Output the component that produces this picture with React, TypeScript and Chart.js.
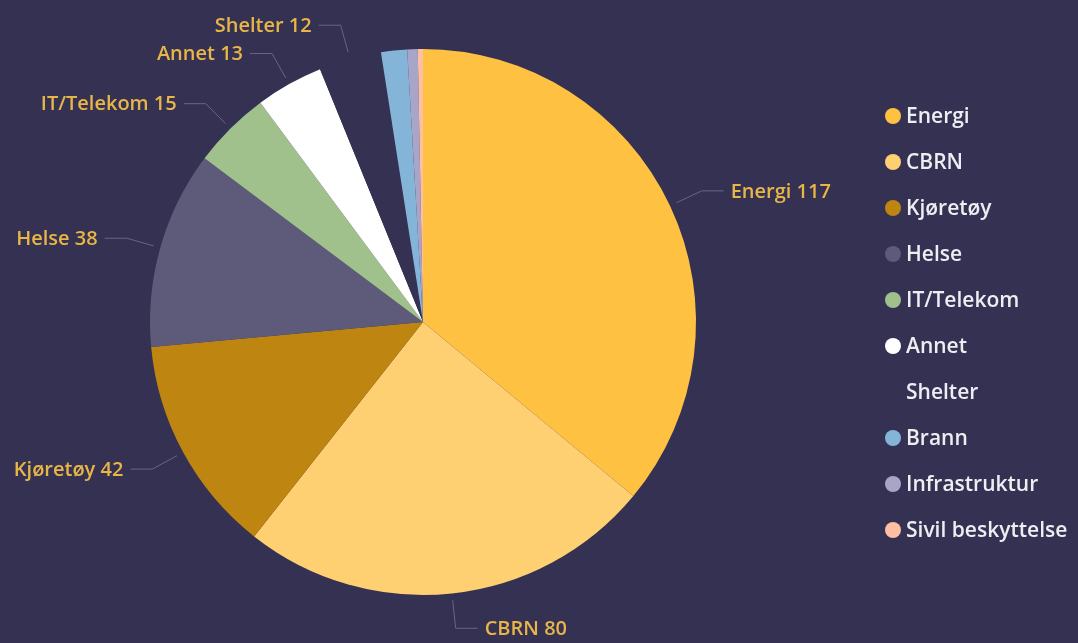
import React, { useEffect, useRef } from "react";
import { Chart, registerables } from "chart.js";

Chart.register(...registerables);

const categories = ["Energi", "CBRN", "Kjøretøy", "Helse", "IT/Telekom", "Annet", "Shelter", "Brann", "Infrastruktur", "Sivil beskyttelse"];
const values = [117, 80, 42, 38, 15, 13, 12, 5, 2, 1];
const BG = "#343153";
const colors = ["#FFC141", "#FFD072", "#BF8511", "#5E5A7A", "#A0C08C", "#FFFFFF", BG, "#84B5D8", "#A8A6C8", "#FFBFA3"];
const labelled = [true, true, true, true, true, true, true, false, false, false];

const FONT = "'Open Sans', 'DejaVu Sans', sans-serif";

const labelPlugin = {
  id: "outLabels",
  afterDatasetsDraw(chart: any) {
    const ctx = chart.ctx;
    const meta = chart.getDatasetMeta(0);
    ctx.save();
    meta.data.forEach((arc: any, i: number) => {
      if (!labelled[i]) return;
      const { x, y, startAngle, endAngle, outerRadius } = arc.getProps(["x", "y", "startAngle", "endAngle", "outerRadius"], true);
      const mid = (startAngle + endAngle) / 2;
      const c = Math.cos(mid), s = Math.sin(mid);
      const p0 = { x: x + c * (outerRadius + 7), y: y + s * (outerRadius + 7) };
      const p1 = { x: x + c * (outerRadius + 35), y: y + s * (outerRadius + 35) };
      const dir = c >= 0 ? 1 : -1;
      const p2 = { x: p1.x + dir * 22, y: p1.y };
      ctx.strokeStyle = "rgba(110,108,140,0.9)";
      ctx.lineWidth = 1;
      ctx.beginPath();
      ctx.moveTo(p0.x, p0.y);
      ctx.lineTo(p1.x, p1.y);
      ctx.lineTo(p2.x, p2.y);
      ctx.stroke();
      ctx.fillStyle = "#E8B547";
      ctx.font = `600 20px ${FONT}`;
      ctx.textAlign = dir > 0 ? "left" : "right";
      ctx.textBaseline = "middle";
      ctx.fillText(`${categories[i]} ${values[i]}`, p2.x + dir * 7, p2.y + 1);
    });
    ctx.restore();
  },
};

const legendPlugin = {
  id: "sideLegend",
  afterDraw(chart: any) {
    const ctx = chart.ctx;
    ctx.save();
    const lx = 893;
    const top = 116;
    const step = 46;
    categories.forEach((name, i) => {
      const yy = top + i * step;
      ctx.fillStyle = colors[i];
      ctx.beginPath();
      ctx.arc(lx, yy, 8, 0, Math.PI * 2);
      ctx.fill();
      ctx.fillStyle = "#EEEEF2";
      ctx.font = `600 21px ${FONT}`;
      ctx.textAlign = "left";
      ctx.textBaseline = "middle";
      ctx.fillText(name, 906, yy + 1);
    });
    ctx.restore();
  },
};

export default function App() {
  const ref = useRef<HTMLCanvasElement>(null);
  useEffect(() => {
    if (!ref.current) return;
    const chart = new Chart(ref.current, {
      type: "pie",
      data: {
        labels: categories,
        datasets: [{ data: values, backgroundColor: colors, borderWidth: 0 }],
      },
      options: {
        animation: false,
        responsive: false,
        layout: { padding: { left: 150, top: 49, right: 382, bottom: 48 } },
        plugins: { legend: { display: false }, tooltip: { enabled: false } },
      },
      plugins: [labelPlugin, legendPlugin],
    });
    return () => chart.destroy();
  }, []);
  return (
    <div style={{ position: "fixed", left: 0, top: 0, width: 1078, height: 643, background: BG }}>
      <canvas ref={ref} width={1078} height={643} style={{ width: 1078, height: 643, display: "block" }} />
    </div>
  );
}
